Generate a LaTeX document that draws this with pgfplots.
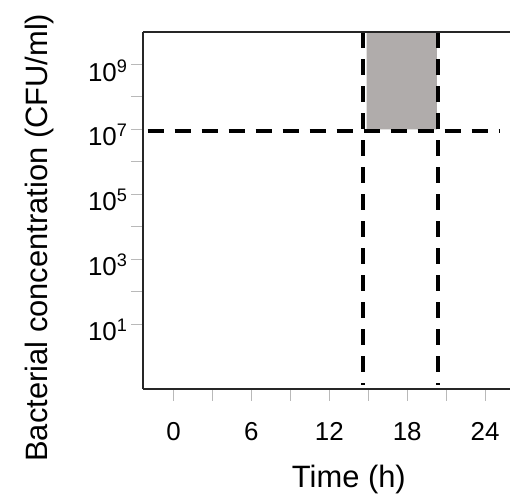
\documentclass[border=0pt]{standalone}
\usepackage{pgfplots}
\pgfplotsset{compat=1.18}
\usepackage{fontspec}
\setmainfont{Liberation Sans}

\definecolor{boxgray}{RGB}{176,172,171}
\definecolor{tickgray}{RGB}{185,185,185}

\begin{document}
\begin{tikzpicture}
\begin{axis}[
    name=ax,
    scale only axis,
    width=367bp, height=357bp,
    xmin=-2.35, xmax=25.92,
    ymode=log, ymin=1e-1, ymax=1e10,
    axis x line*=box, axis y line*=left,
    axis line style={black!85, line width=1.6bp},
    xtick={0,3,...,24},
    xticklabels={0,,6,,12,,18,,24},
    ytick={1e1,1e2,1e3,1e4,1e5,1e6,1e7,1e8,1e9},
    yticklabels={10\textsuperscript{1},,10\textsuperscript{3},,10\textsuperscript{5},,10\textsuperscript{7},,10\textsuperscript{9}},
    yminorticks=false,
    xtick pos=bottom, ytick pos=left,
    tick align=outside,
    major tick length=12bp,
    tick style={tickgray, line width=0.9bp},
    xticklabel style={font=\fontsize{26}{30}\selectfont, yshift=-18bp},
    yticklabel style={font=\fontsize{26}{30}\selectfont, yshift=-6bp},
    xlabel={Time (h)},
    ylabel={Bacterial concentration (CFU/ml)},
    xlabel style={font=\fontsize{31}{36}\selectfont, at={(axis description cs:0.561,0)}, anchor=base, yshift=-98bp},
    ylabel style={font=\fontsize{31}{36}\selectfont, at={(axis description cs:-0.2589,0.424)}, anchor=base},
    axis on top,
]
% shaded window
\addplot[fill=boxgray, draw=none] coordinates {
    (14.88,1e7) (20.28,1e7) (20.28,1e10) (14.88,1e10) (14.88,1e7)
};
% dashed guide lines
\addplot[black, line width=4bp, dash pattern=on 16bp off 11bp] coordinates {
    (-2.0,8.9e6) (25.1,8.9e6)
};
\addplot[black, line width=4bp, dash pattern=on 16bp off 11bp] coordinates {
    (14.58,1e10) (14.58,0.13)
};
\addplot[black, line width=4bp, dash pattern=on 16bp off 11bp] coordinates {
    (20.40,1e10) (20.40,0.13)
};
\end{axis}
\pgfresetboundingbox
\path ([shift={(-143bp,-109bp)}]ax.south west) rectangle ([shift={(0bp,32bp)}]ax.north east);
\end{tikzpicture}
\end{document}
